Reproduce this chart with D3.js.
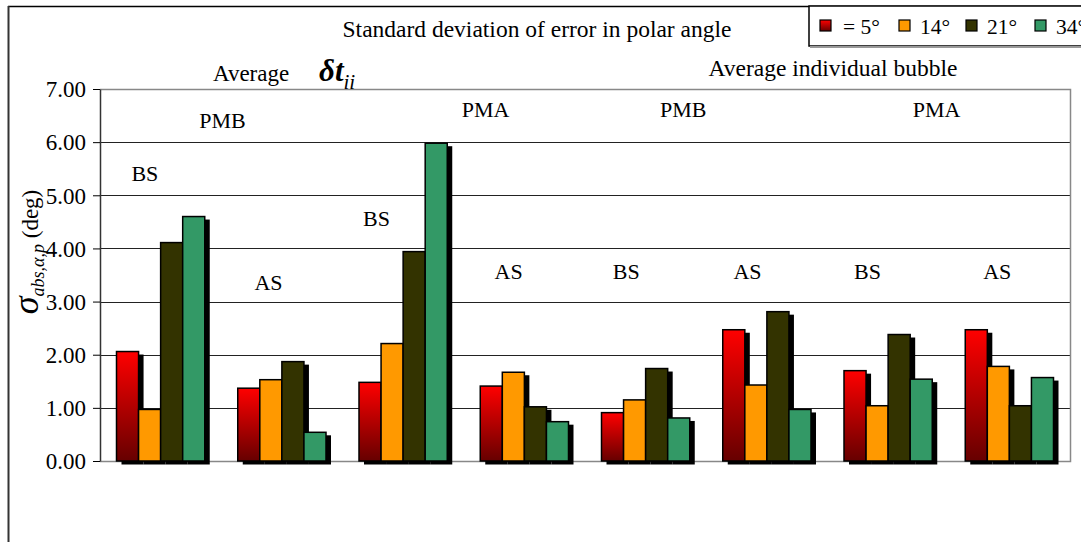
<!DOCTYPE html>
<html><head><meta charset="utf-8">
<script src="https://cdn.jsdelivr.net/npm/d3@7"></script>
<style>body{margin:0;background:#fff}svg{display:block}svg text{font-family:'Liberation Serif','DejaVu Serif','Times New Roman',Times,serif !important;fill:#000}</style>
</head><body><svg id="c" width="1081" height="542"></svg>
<script>
const groups = ["G1","G2","G3","G4","G5","G6","G7","G8"];
const seriesNames = ["= 5°","14°","21°","34°"];
const s5  = [2.06, 1.37, 1.48, 1.41, 0.91, 2.47, 1.70, 2.47];
const s14 = [0.97, 1.53, 2.21, 1.67, 1.15, 1.43, 1.04, 1.78];
const s21 = [4.11, 1.87, 3.94, 1.02, 1.74, 2.81, 2.38, 1.04];
const s34 = [4.60, 0.54, 5.98, 0.74, 0.81, 0.97, 1.54, 1.57];
const yTicks = [0,1,2,3,4,5,6,7];
// label positions: g = fractional group position, v = value at baseline
const groupLabels = [
  {g:-0.13, t:"BS", v:5.26}, {g:0.51, t:"PMB", v:6.26}, {g:0.89, t:"AS", v:3.21},
  {g:1.78, t:"BS", v:4.42}, {g:2.68, t:"PMA", v:6.47}, {g:2.87, t:"AS", v:3.43},
  {g:3.84, t:"BS", v:3.43}, {g:4.31, t:"PMB", v:6.47}, {g:4.84, t:"AS", v:3.43},
  {g:5.83, t:"BS", v:3.43}, {g:6.40, t:"PMA", v:6.47}, {g:6.90, t:"AS", v:3.43}
];
const series = [s5, s14, s21, s34];
const colors = ["#ff0000","#ff9900","#333300","#339966"];

const FONT = "'Liberation Serif','DejaVu Serif',serif";
const svg = d3.select("#c");
const L = 100, R = 1070, T = 89, B = 461;
const y = d3.scaleLinear().domain([0,7]).range([B,T]);
const x0 = d3.scaleBand().domain(groups).range([L,R]).padding(0);
const x1 = d3.scaleBand().domain(d3.range(4)).range([16.5, x0.bandwidth()-16.5]).padding(0);
const gx = g => L + (g + 0.5) * x0.step();

const defs = svg.append("defs");
const gr = defs.append("linearGradient").attr("id","redg").attr("x1",0).attr("y1",0).attr("x2",0).attr("y2",1);
gr.append("stop").attr("offset","0%").attr("stop-color","#ff0000");
gr.append("stop").attr("offset","100%").attr("stop-color","#660000");
const fillFor = i => i===0 ? "url(#redg)" : colors[i];

// outer frame
svg.append("line").attr("x1",8).attr("y1",6.5).attr("x2",1081).attr("y2",6.5).attr("stroke","#000").attr("stroke-width",1.5);
svg.append("line").attr("x1",8.5).attr("y1",6).attr("x2",8.5).attr("y2",542).attr("stroke","#333").attr("stroke-width",2);

// gridlines
svg.append("g").selectAll("line").data(yTicks.slice(1,-1)).join("line")
  .attr("x1",L).attr("x2",R).attr("y1",d=>Math.round(y(d))+0.5).attr("y2",d=>Math.round(y(d))+0.5)
  .attr("stroke","#222").attr("stroke-width",1);
svg.append("path").attr("d",`M${L},${T+0.5}H${R+0.5}V${B+0.5}H${L}`).attr("fill","none").attr("stroke","#888").attr("stroke-width",1.5);

// bars: shadows then bars
const data = [];
groups.forEach((g,gi)=>series.forEach((s,si)=>data.push({g,gi,si,v:s[gi]})));
const bars = svg.append("g");
bars.selectAll("rect.sh").data(data).join("rect").attr("class","sh")
  .attr("x",d=>x0(d.g)+x1(d.si)+5).attr("y",d=>y(d.v)+3)
  .attr("width",x1.bandwidth()).attr("height",d=>B-y(d.v)+0.5).attr("fill","#000");
bars.selectAll("rect.b").data(data).join("rect").attr("class","b")
  .attr("x",d=>x0(d.g)+x1(d.si)).attr("y",d=>y(d.v))
  .attr("width",x1.bandwidth()).attr("height",d=>B-y(d.v))
  .attr("fill",d=>fillFor(d.si)).attr("stroke","#000").attr("stroke-width",1.5);

// y axis
const ya = svg.append("g").attr("transform",`translate(${L},0)`)
  .call(d3.axisLeft(y).tickValues(yTicks).tickFormat(d3.format(".2f")).tickSize(7).tickSizeOuter(0));
ya.attr("font-family",FONT).attr("font-size",23);
ya.select(".domain").attr("stroke","#333").attr("stroke-width",1.5);
ya.selectAll(".tick line").attr("stroke","#000");
ya.selectAll(".tick text").attr("x",-14).attr("dy","0.34em").attr("fill","#000");

// y title
const yt = svg.append("text").attr("transform","translate(38,252) rotate(-90)").attr("text-anchor","middle").attr("font-family",FONT);
yt.append("tspan").text("σ").attr("font-size",36).attr("font-style","italic");
yt.append("tspan").text("abs,α,p").attr("font-size",18).attr("font-style","italic").attr("dy",6);
yt.append("tspan").text(" (deg)").attr("font-size",23).attr("dy",-6);

// group labels
svg.append("g").attr("font-family",FONT).selectAll("text").data(groupLabels).join("text")
  .attr("x",d=>gx(d.g)).attr("y",d=>y(d.v)).attr("text-anchor","middle").attr("font-size",22).text(d=>d.t);

// titles
svg.append("text").attr("x",537).attr("y",37).attr("text-anchor","middle").attr("font-family",FONT).attr("font-size",23.5).text("Standard deviation of error in polar angle");
svg.append("text").attr("x",833).attr("y",76).attr("text-anchor","middle").attr("font-family",FONT).attr("font-size",23.5).text("Average individual bubble");
const av = svg.append("text").attr("x",213).attr("y",81).attr("font-family",FONT).attr("font-size",23);
av.append("tspan").text("Average");
av.append("tspan").text("δt").attr("x",319).attr("font-size",31).attr("font-style","italic").attr("font-weight","bold");
av.append("tspan").text("ii").attr("dy",8).attr("font-size",21).attr("font-style","italic");

// legend
const lg = svg.append("g").attr("font-family",FONT);
lg.append("rect").attr("x",809).attr("y",6).attr("width",290).attr("height",40).attr("fill","#fff").attr("stroke","#000").attr("stroke-width",1.5);
lg.append("line").attr("x1",810).attr("x2",1081).attr("y1",47).attr("y2",47).attr("stroke","#999").attr("stroke-width",2);
const lx = [820, 899, 966, 1035];
seriesNames.forEach((n,i)=>{
  lg.append("rect").attr("x",lx[i]).attr("y",20).attr("width",11).attr("height",11).attr("fill",fillFor(i)).attr("stroke","#000").attr("stroke-width",1.2);
  lg.append("text").attr("x",lx[i]+(i===0?23:21)).attr("y",34).attr("font-size",21.5).text(n);
});
</script></body></html>
